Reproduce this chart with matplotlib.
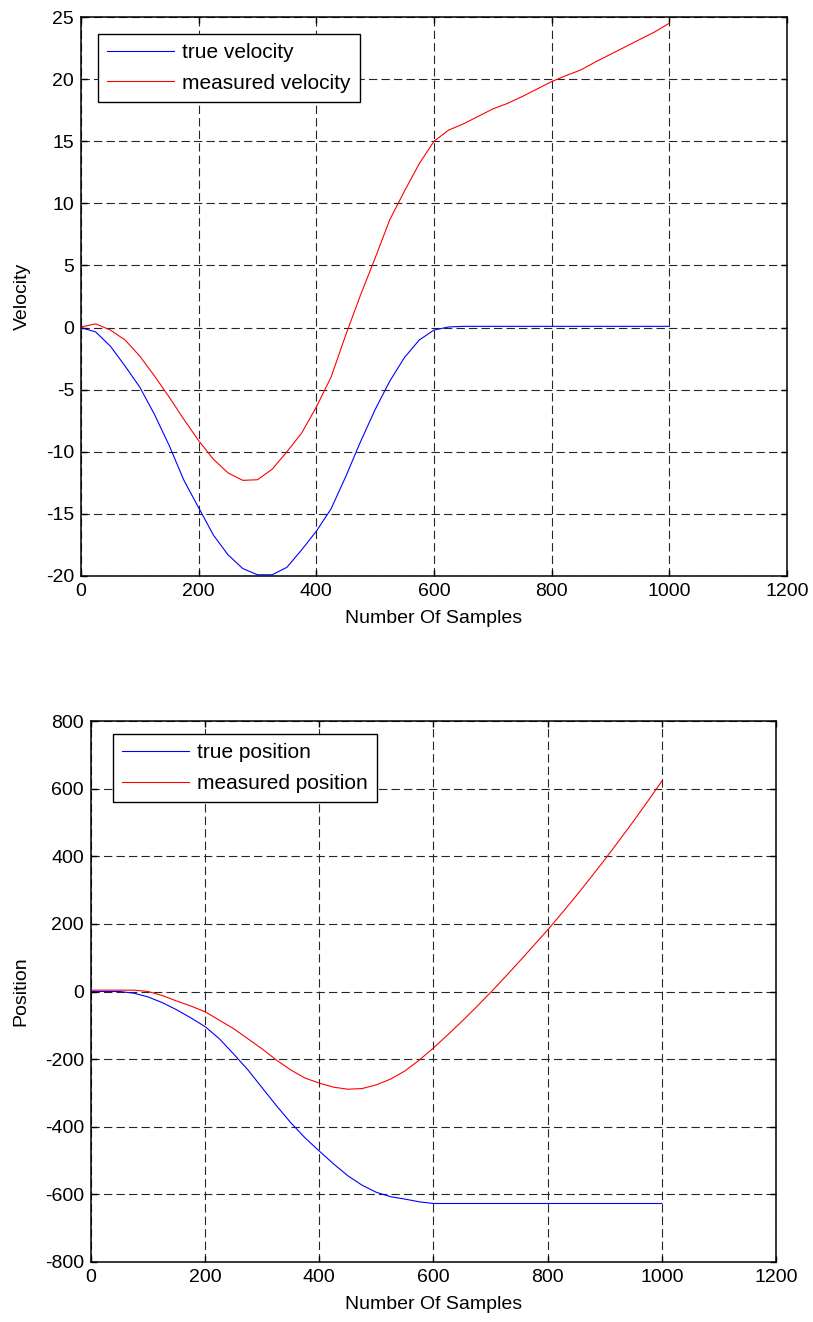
import matplotlib.pyplot as plt

plt.rcParams['font.family'] = ['Liberation Sans', 'DejaVu Sans']
plt.rcParams['lines.scale_dashes'] = False
plt.rcParams['axes.unicode_minus'] = False

# amostras em que as curvas foram lidas
amostras = [0, 25, 50, 75, 100, 125, 150, 175, 200, 225, 250, 275, 300,
            325, 350, 375, 400, 425, 450, 475, 500, 525, 550, 575, 600,
            625, 650, 675, 700, 725, 750, 775, 800, 825, 850, 875, 900,
            925, 950, 975, 1000]

vel_real = [0, -0.35, -1.5, -3.1, -4.8, -7.0, -9.5, -12.3, -14.5, -16.7,
            -18.3, -19.4, -19.9, -19.9, -19.3, -17.9, -16.4, -14.6, -12.0,
            -9.2, -6.6, -4.3, -2.4, -1.0, -0.2, 0.05, 0.1, 0.1, 0.1, 0.1,
            0.1, 0.1, 0.1, 0.1, 0.1, 0.1, 0.1, 0.1, 0.1, 0.1, 0.1]

vel_medida = [0.05, 0.3, -0.2, -1.0, -2.3, -3.9, -5.6, -7.4, -9.1, -10.6,
              -11.7, -12.3, -12.25, -11.4, -10.0, -8.5, -6.4, -4.0, -0.6,
              2.6, 5.6, 8.7, 11.0, 13.2, 15.0, 15.9, 16.4, 17.0, 17.6, 18.05,
              18.6, 19.2, 19.8, 20.3, 20.75, 21.4, 22.0, 22.6, 23.2, 23.8,
              24.5]

pos_real = [0, 0, 0, -5, -16, -33, -54, -78, -104, -140, -185, -232, -285,
            -338, -388, -433, -472, -510, -545, -573, -594, -607, -614, -622,
            -627, -627, -627, -627, -627, -627, -627, -627, -627, -627, -627,
            -627, -627, -627, -627, -627, -627]

pos_medida = [4, 4, 4, 4, 0, -12, -28, -43, -60, -85, -110, -140, -170,
              -203, -232, -256, -271, -283, -289, -287, -276, -259, -235,
              -203, -167, -128, -88, -46, -3, 42, 88, 135, 182, 232, 283,
              336, 390, 446, 503, 562, 622]

FONTE = 14


def montar_eixo(ax, real, medida, rotulos, ylabel, yticks, ancora):
    ax.plot(amostras, real, color='blue', linewidth=0.8, label=rotulos[0])
    ax.plot(amostras, medida, color='red', linewidth=0.8, label=rotulos[1])
    ax.set_xlim(0, 1200)
    ax.set_ylim(yticks[0], yticks[-1])
    ax.set_xticks(range(0, 1201, 200))
    ax.set_yticks(yticks)
    ax.grid(True, color='0.15', linestyle=(0, (6, 3)), linewidth=0.8)
    ax.tick_params(direction='in', top=True, right=True, length=4,
                   labelsize=FONTE, width=1, pad=5)
    for s in ax.spines.values():
        s.set_linewidth(1.1)
    ax.set_xlabel('Number Of Samples', fontsize=FONTE, labelpad=7)
    ax.set_ylabel(ylabel, fontsize=FONTE, labelpad=11)
    leg = ax.legend(loc='upper left', bbox_to_anchor=ancora,
                    borderaxespad=0, fontsize=15, fancybox=False,
                    framealpha=1, edgecolor='black', handlelength=3.2,
                    handletextpad=0.4, borderpad=0.45, labelspacing=0.55)
    leg.get_frame().set_linewidth(1.0)


fig = plt.figure(figsize=(8.13, 13.22), dpi=100)

ax1 = fig.add_axes([0.0996, 0.5643, 0.8684, 0.4228])
montar_eixo(ax1, vel_real, vel_medida, ['true velocity', 'measured velocity'],
            'Velocity', list(range(-20, 26, 5)), (0.024, 0.970))

ax2 = fig.add_axes([0.1119, 0.0454, 0.8426, 0.4092])
montar_eixo(ax2, pos_real, pos_medida, ['true position', 'measured position'],
            'Position', list(range(-800, 801, 200)), (0.032, 0.976))

fig.savefig('out.png', dpi=100)
